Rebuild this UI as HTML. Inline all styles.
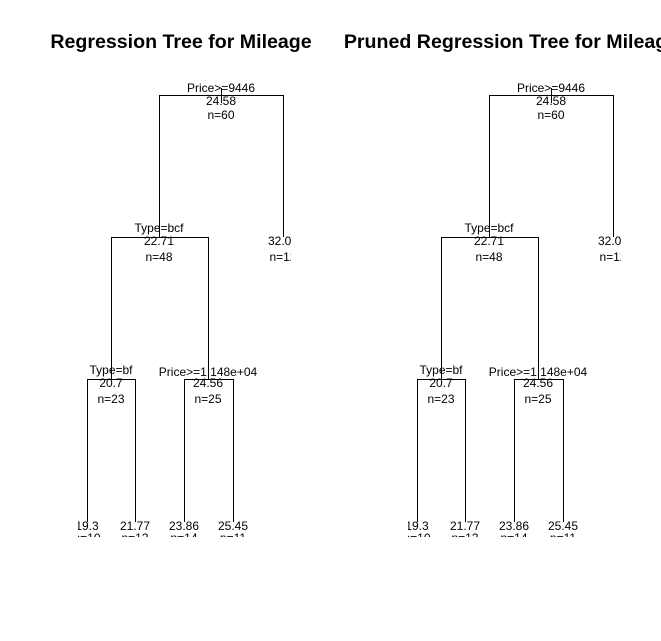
<!DOCTYPE html>
<html><head><style>body{margin:0;background:#fff}</style></head><body>
<svg width="661" height="636" xmlns="http://www.w3.org/2000/svg" font-family="Liberation Sans, Arial, sans-serif">
<rect width="661" height="636" fill="#fff"/>
<defs>
<clipPath id="c1"><rect x="78" y="60" width="213" height="477"/></clipPath>
<clipPath id="c2"><rect x="408" y="60" width="213" height="477"/></clipPath>
</defs>
<text x="181" y="48" font-size="19.6" font-weight="bold" text-anchor="middle">Regression Tree for Mileage</text>
<text x="511" y="48" font-size="19.6" font-weight="bold" text-anchor="middle">Pruned Regression Tree for Mileage</text>
<g id="t" clip-path="url(#c1)">
<g stroke="#000" stroke-width="1" fill="none">
<path d="M159.5 237 V95.5 H283.5 V237"/>
<path d="M221.5 88 V103"/>
<path d="M111.5 379 V237.5 H208.5 V379"/>
<path d="M87.5 522 V379.5 H135.5 V522"/>
<path d="M184.5 522 V379.5 H233.5 V522"/>
</g>
<g font-size="12" text-anchor="middle" fill="#000">
<text x="221" y="92">Price&gt;=9446</text><text x="221" y="105">24.58</text><text x="221" y="119">n=60</text>
<text x="159" y="232">Type=bcf</text><text x="159" y="245">22.71</text><text x="159" y="261">n=48</text>
<text x="283" y="245">32.08</text><text x="283" y="261">n=12</text>
<text x="111" y="374">Type=bf</text><text x="111" y="387">20.7</text><text x="111" y="403">n=23</text>
<text x="208" y="376">Price&gt;=1.148e+04</text><text x="208" y="387">24.56</text><text x="208" y="403">n=25</text>
<text x="87" y="530">19.3</text><text x="87" y="542">n=10</text>
<text x="135" y="530">21.77</text><text x="135" y="542">n=13</text>
<text x="184" y="530">23.86</text><text x="184" y="542">n=14</text>
<text x="233" y="530">25.45</text><text x="233" y="542">n=11</text>
</g>
</g>
<g clip-path="url(#c2)"><use href="#t" x="330" clip-path="none"/></g>
</svg>
</body></html>
